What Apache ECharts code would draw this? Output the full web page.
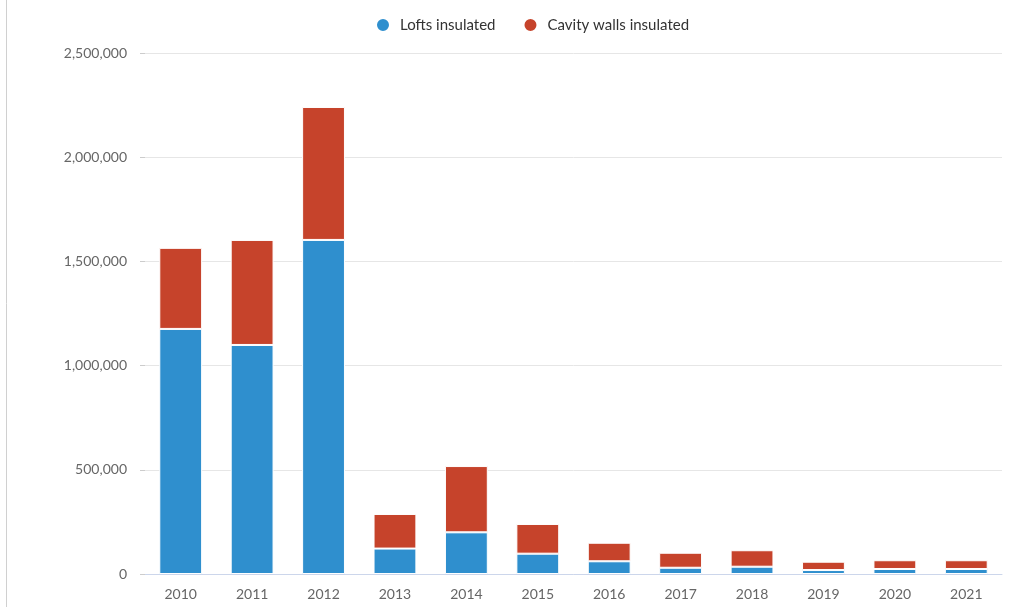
<!DOCTYPE html>
<html><head><meta charset="utf-8">
<script src="https://cdn.jsdelivr.net/npm/echarts@6/dist/echarts.min.js"></script>
<style>html,body{margin:0;padding:0;background:#fff}#c{width:1026px;height:607px}</style>
</head><body><div id="c"></div>
<script>
const years = ['2010','2011','2012','2013','2014','2015','2016','2017','2018','2019','2020','2021'];
const lofts = [1176000,1099000,1603000,122000,200000,97500,61000,30000,35000,19000,24000,24000];
const cavity = [389000,504000,638000,166000,318000,142500,89000,72000,79000,40000,42000,42000];
const yTicks = [0,500000,1000000,1500000,2000000,2500000];

const chart = echarts.init(document.getElementById('c'));
const fmt = v => v.toLocaleString('en-US');
chart.setOption({
  animation:false,
  textStyle:{fontFamily:'Lato'},
  graphic:[{type:'line',shape:{x1:6.5,y1:0,x2:6.5,y2:607},style:{stroke:'#d0d0d0',lineWidth:1}}],
  legend:{top:12,left:370,itemGap:27,icon:'circle',itemWidth:14,itemHeight:14,
    textStyle:{color:'#333',fontSize:15,fontFamily:'Lato',padding:[0,0,0,5]},data:['Lofts insulated','Cavity walls insulated']},
  grid:{left:145,right:24,top:53,bottom:33,containLabel:false},
  xAxis:{type:'category',data:years,
    axisLine:{lineStyle:{color:'#ccd6eb'}},axisTick:{show:false},
    axisLabel:{color:'#666',fontSize:14,margin:13}},
  yAxis:{type:'value',min:0,max:yTicks[yTicks.length-1],interval:500000,
    axisLine:{show:false},axisTick:{show:true,length:5,lineStyle:{color:'#ccc'}},
    splitLine:{lineStyle:{color:'#e6e6e6'}},
    axisLabel:{color:'#666',fontSize:14,margin:18,formatter:fmt}},
  series:[
    {name:'Lofts insulated',type:'bar',stack:'a',data:lofts,barWidth:'60%',
      itemStyle:{color:'#2f8fce',borderColor:'#fff',borderWidth:1}},
    {name:'Cavity walls insulated',type:'bar',stack:'a',data:cavity,barWidth:'60%',
      itemStyle:{color:'#c6432b',borderColor:'#fff',borderWidth:1}}
  ]
});
</script></body></html>
